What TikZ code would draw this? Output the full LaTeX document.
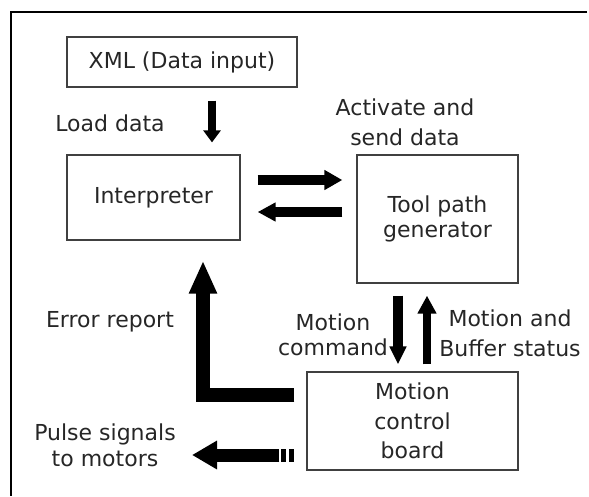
\documentclass[tikz,border=0pt]{standalone}
\usepackage{fontspec}
\setmainfont{DejaVu Sans}
\usetikzlibrary{arrows.meta}

\begin{document}
\begin{tikzpicture}
[every node/.style={inner sep=0pt, align=center, text=black!85, font=\fontsize{22}{28}\selectfont},
 blockbox/.style={rectangle, draw=black!75, line width=1.3pt},
 fatline/.style={line width=#1, color=black, line join=miter}]
\useasboundingbox (0pt, 0pt) rectangle (589pt, -496pt);
\draw [line width=2pt, color=black] (587pt, -12pt) -- (11pt, -12pt) -- (11pt, -496pt);
\node (xml) [blockbox, minimum width=230pt, minimum height=50pt] at (182.0pt, -62.0pt) {XML (Data input)};
\node (interp) [blockbox, minimum width=173pt, minimum height=85pt] at (153.5pt, -197.5pt) {Interpreter};
\node (tpg) [blockbox, minimum width=161pt, minimum height=128pt, font=\fontsize{22}{25}\selectfont] at (437.5pt, -219.0pt) {Tool path\\generator};
\node (mcb) [blockbox, minimum width=211pt, minimum height=98pt, font=\fontsize{22}{29.5}\selectfont] at (412.5pt, -421.0pt) {Motion\\control\\board};
\node (load) at (110.0pt, -123.0pt) {Load data};
\node (activate) [font=\fontsize{22}{30}\selectfont] at (405.0pt, -122.0pt) {Activate and\\send data};
\node (error) at (110.0pt, -322.0pt) {Error report};
\node (command) [font=\fontsize{22}{25}\selectfont] at (333.0pt, -335.0pt) {Motion\\command};
\node (status) [font=\fontsize{22}{30}\selectfont] at (510.0pt, -333.0pt) {Motion and\\Buffer status};
\node (pulse) [font=\fontsize{22}{26}\selectfont] at (105.0pt, -445.0pt) {Pulse signals\\to motors};
\draw [fatline=8pt, -{Triangle[length=12pt, width=17pt]}] ([xshift=30pt, yshift=-13pt]xml.south) to ([xshift=58.5pt, yshift=12pt]interp.north);
\draw [fatline=10pt, -{Triangle[length=18pt, width=19pt]}] ([xshift=17pt, yshift=17.5pt]interp.east) to ([xshift=-14pt, yshift=39pt]tpg.west);
\draw [fatline=10pt, -{Triangle[length=18pt, width=18pt]}] ([xshift=-14pt, yshift=7pt]tpg.west) to ([xshift=17pt, yshift=-14.5pt]interp.east);
\draw [fatline=10pt, -{Triangle[length=18pt, width=16pt]}] ([xshift=-39.5pt, yshift=-12pt]tpg.south) to ([xshift=-14.5pt, yshift=7pt]mcb.north);
\draw [fatline=8pt, -{Triangle[length=18pt, width=18pt]}] ([xshift=14.5pt, yshift=7pt]mcb.north) to ([xshift=-10.5pt, yshift=-12pt]tpg.south);
\draw [fatline=14pt, -{Triangle[length=33pt, width=26pt]}] ([xshift=-12pt, yshift=26pt]mcb.west) -| ([xshift=49.5pt, yshift=-20pt]interp.south);
\draw [fatline=13pt, -{Triangle[length=25pt, width=27pt]}] ([xshift=-27pt, yshift=-34pt]mcb.west) to ([xshift=87pt, yshift=-10pt]pulse.center);
\draw [fatline=13pt, dash pattern=on 5pt off 3pt] ([xshift=-25pt, yshift=-34pt]mcb.west) to ([xshift=-12pt, yshift=-34pt]mcb.west);

\end{tikzpicture}
\end{document}
